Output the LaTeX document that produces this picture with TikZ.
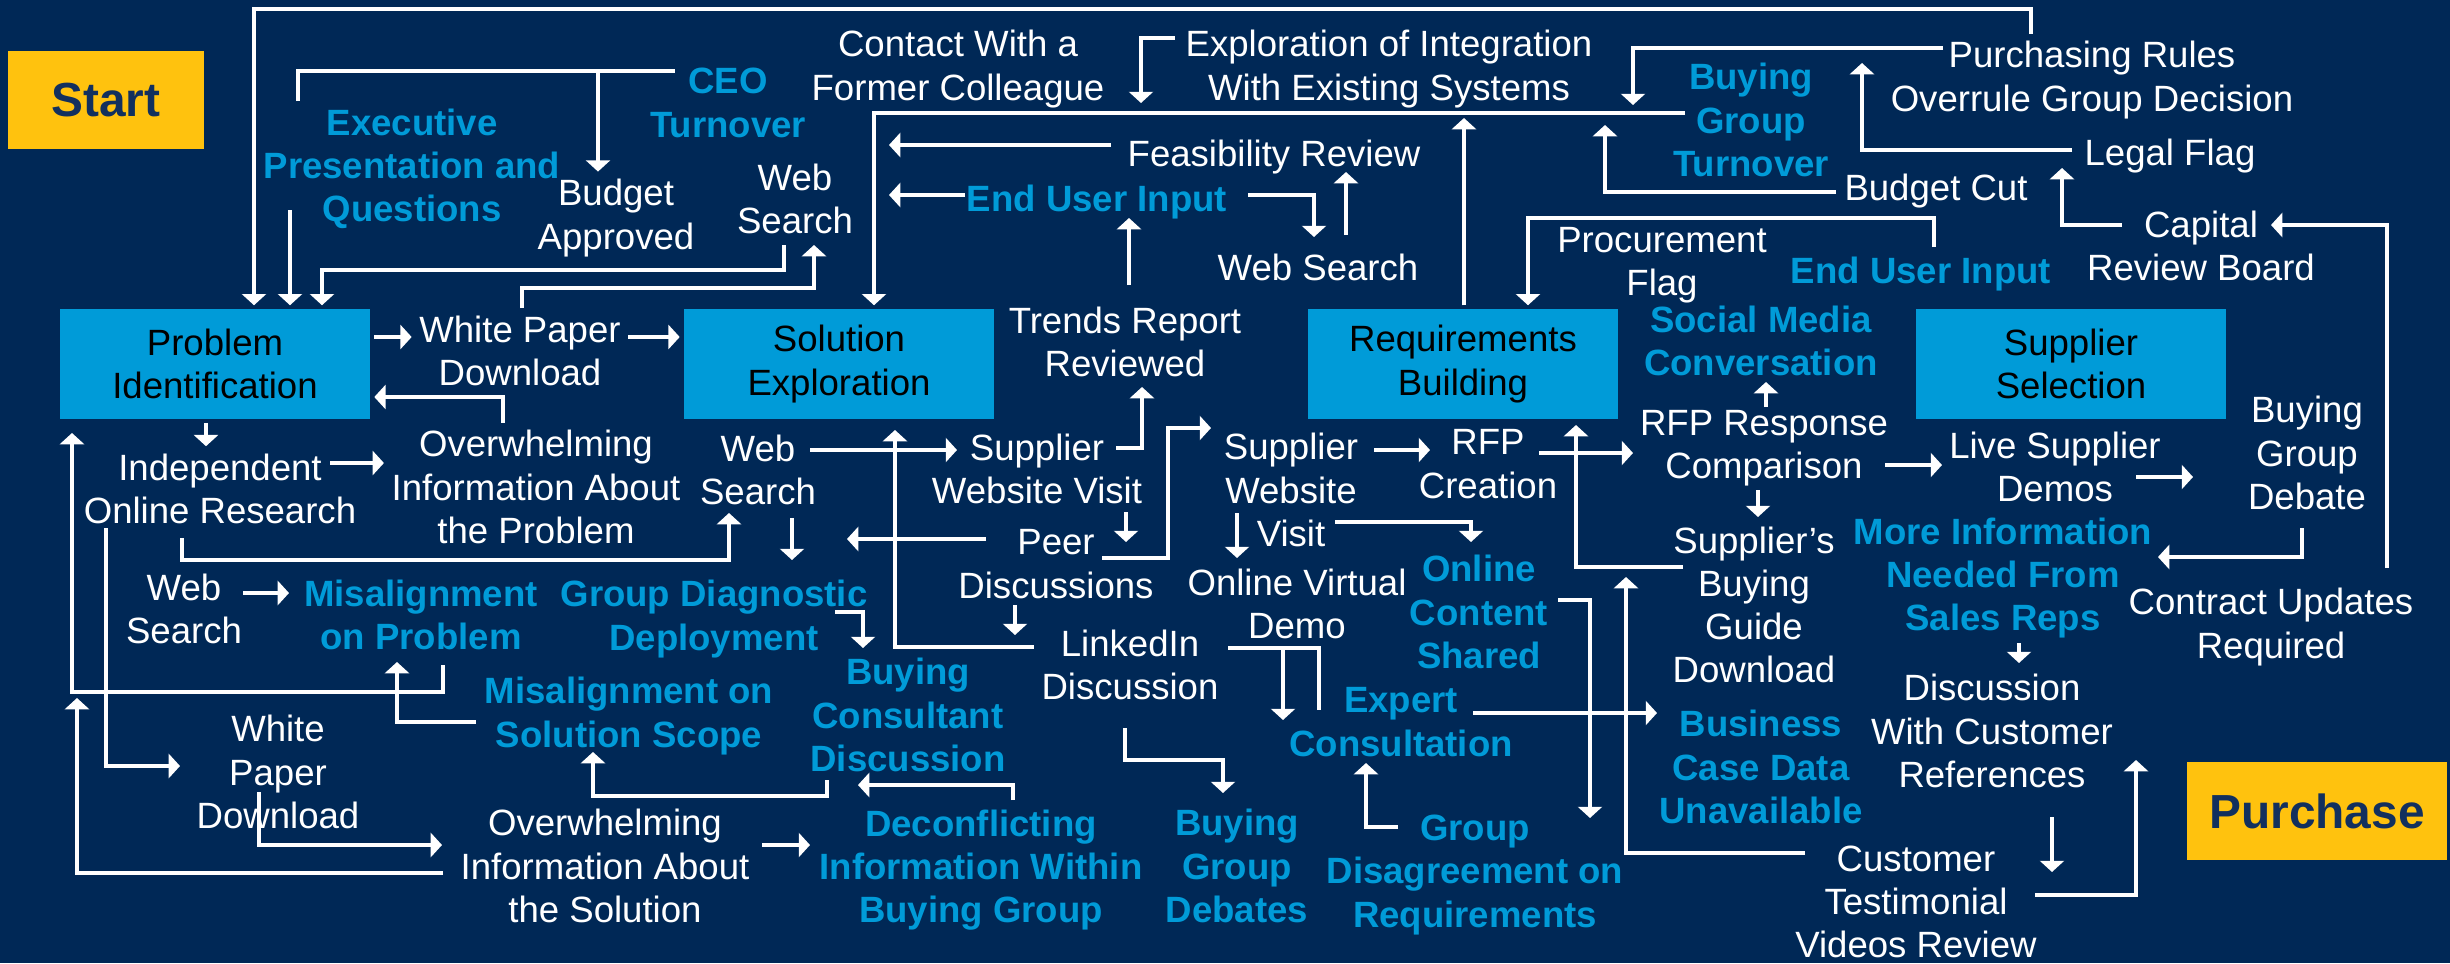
\documentclass[tikz,border=0pt]{standalone}
\usepackage{fontspec}
\setmainfont{Liberation Sans}
\usetikzlibrary{arrows.meta}

\definecolor{navy}{HTML}{002856}
\definecolor{stageblue}{HTML}{009BD8}
\definecolor{gold}{HTML}{FFC20E}
\definecolor{darkink}{HTML}{12305E}

\newcommand{\lblsize}{\fontsize{10.4}{12.3}\selectfont}
\newcommand{\goalsize}{\fontsize{13.6}{16}\selectfont\bfseries}

\begin{document}
\begin{tikzpicture}[x=0.01cm,y=-0.01cm]
	\tikzstyle{stage} = [fill=stageblue,minimum width=3.1cm,minimum height=1.09cm,inner sep=0pt,outer sep=1.2pt,align=center,font=\lblsize]
	\tikzstyle{goal} = [fill=gold,text=darkink,inner sep=0pt,font=\goalsize]
	\tikzstyle{touch} = [text=white,align=center,inner sep=2pt,font=\lblsize]
	\tikzstyle{hot} = [touch,text=stageblue,font=\lblsize\bfseries]
	\tikzstyle{link} = [white,line width=1.25pt]
	\tikzstyle{flow} = [link,-{Triangle[width=6.8pt,length=3.2pt]}]

	\fill[navy] (0,0) rectangle (2450,963);
	\useasboundingbox (0,0) rectangle (2450,963);

	\node[goal,minimum width=1.96cm,minimum height=0.97cm] at (106,100) (start) {Start};
	\node[goal,minimum width=2.59cm,minimum height=0.97cm] at (2317,811) (purchase) {Purchase};

	\node[stage] at (215,364) (pid) {Problem\\Identification};
	\node[stage] at (839,364) (sol) {Solution\\Exploration};
	\node[stage] at (1463,364) (req) {Requirements\\Building};
	\node[stage] at (2071,364) (sel) {Supplier\\Selection};

	\node[hot] at (728,103) (ceo) {CEO\\Turnover};
	\node[hot] at (412,169) (exec) {Executive\\Presentation and\\Questions};
	\node[touch] at (616,218) (budget) {Budget\\Approved};
	\node[touch] at (795,199) (webA) {Web\\Search};
	\node[touch] at (958,69) (contact) {Contact With a\\Former Colleague};
	\node[touch] at (1389,69) (integ) {Exploration of Integration\\With Existing Systems};
	\node[touch] at (1274,157) (feas) {Feasibility Review};
	\node[hot] at (1097,202) (euiA) {End User Input};
	\node[touch] at (1318,267) (webB) {Web Search};
	\node[touch] at (1125,342) (trends) {Trends Report\\Reviewed};
	\node[hot] at (1751,120) (bgt) {Buying\\Group\\Turnover};
	\node[touch] at (2092,80) (purch) {Purchasing Rules\\Overrule Group Decision};
	\node[touch] at (2170,156) (legal) {Legal Flag};
	\node[touch] at (1936,191) (bcut) {Budget Cut};
	\node[touch] at (2201,246) (capital) {Capital\\Review Board};
	\node[touch] at (1662,265) (procure) {Procurement\\Flag};
	\node[hot] at (1921,274) (euiB) {End User Input};
	\node[hot] at (1761,341) (social) {Social Media\\Conversation};

	\node[touch] at (520,351) (wpdA) {White Paper\\Download};
	\node[touch] at (220,489) (indep) {Independent\\Online Research};
	\node[touch] at (536,487) (overP) {Overwhelming\\Information About\\the Problem};
	\node[touch] at (758,470) (webC) {Web\\Search};
	\node[touch] at (1037,469) (swvA) {Supplier\\Website Visit};
	\node[touch] at (1056,564) (peer) {Peer\\Discussions};
	\node[touch] at (1291,490) (swvB) {Supplier\\Website\\Visit};
	\node[touch] at (1488,464) (rfp) {RFP\\Creation};
	\node[touch] at (1764,448) (rfpcmp) {RFP Response\\Comparison};
	\node[touch] at (1754,605) (guide) {Supplier's\\Buying\\Guide\\Download};
	\node[touch] at (2055,467) (demos) {Live Supplier\\Demos};
	\node[touch] at (2307,453) (bgd) {Buying\\Group\\Debate};
	\node[hot] at (2003,578) (moreinfo) {More Information\\Needed From\\Sales Reps};
	\node[touch] at (2271,627) (contract) {Contract Updates\\Required};
	\node[touch] at (1992,731) (refs) {Discussion\\With Customer\\References};
	\node[touch] at (1916,902) (videos) {Customer\\Testimonial\\Videos Review};

	\node[touch] at (184,609) (webD) {Web\\Search};
	\node[hot] at (421,615) (misP) {Misalignment\\on Problem};
	\node[hot] at (714,619) (diag) {Group Diagnostic\\Deployment};
	\node[hot] at (629,716) (misS) {Misalignment on\\Solution Scope};
	\node[hot] at (908,715) (consult) {Buying\\Consultant\\Discussion};
	\node[touch] at (1130,665) (linked) {LinkedIn\\Discussion};
	\node[touch] at (1297,604) (demo) {Online Virtual\\Demo};
	\node[hot] at (1479,612) (content) {Online\\Content\\Shared};
	\node[hot] at (1401,722) (expert) {Expert\\Consultation};
	\node[hot] at (1761,767) (bizcase) {Business\\Case Data\\Unavailable};
	\node[touch] at (278,772) (wpdB) {White\\Paper\\Download};
	\node[touch] at (605,866) (overS) {Overwhelming\\Information About\\the Solution};
	\node[hot] at (981,870) (deconf) {Deconflicting\\Information Within\\Buying Group};
	\node[hot] at (1237,866) (debates) {Buying\\Group\\Debates};
	\node[hot] at (1475,875) (disagree) {Group\\Disagreement on\\Requirements};

	\coordinate (ceojoin) at (598,71);
	\coordinate (linkjoin) at (1283,648);

	\draw[link] (exec.north -| 298,0) |- (675,71);
	\draw[link] (1228,648) -| (1319,710);

	\begin{scope}[flow]
		\draw (purch.north -| 2031,0) -- (2031,9) -| (pid.north -| 254,0);
		\draw (ceojoin) -- (budget.north -| 598,0);
		\draw (290,210) -- (pid.north -| 290,0);
		\draw (784,245) |- (322,270) -- (pid.north -| 322,0);
		\draw (wpdA.north -| 522,0) |- (814,288) -- (814,245);
		\draw (pid.east |- 0,337) -- (wpdA.west |- 0,337);
		\draw (wpdA.east |- 0,337) -- (sol.west |- 0,337);
		\draw (overP.north -| 503,0) |- (pid.east |- 0,397);
		\draw (pid.south -| 206,0) -- (indep.north -| 206,0);
		\draw (330,463) -- (overP.west |- 0,463);
		\draw (182,538) |- (729,560) -- (729,513);
		\draw (810,450) -- (957,450);
		\draw (linked.west |- 0,647) -| (895,430);
		\draw (792,518) -- (792,560);
		\draw (986,539) -- (847,539);
		\draw (1126,512) -- (1126,542);
		\draw (1116,448) -| (1142,387);
		\draw (1102,558) -| (1168,428) -- (1211,428);
		\draw (1015,605) -- (1015,635);
		\draw (835,612) -| (863,648);
		\draw (1129,285) -- (1129,218);
		\draw (1111,145) -- (889,145);
		\draw (965,195) -- (889,195);
		\draw (1248,195) -| (1314,237);
		\draw (1346,235) -- (1346,172);
		\draw (1685,113) -| (sol.north -| 874,0);
		\draw (req.north -| 1464,0) -- (1464,118);
		\draw (1175,38) -| (1141,103);
		\draw (1943,48) -| (1633,105);
		\draw (1836,192) -| (1605,125);
		\draw (2072,150) -| (1862,63);
		\draw (2122,225) -| (2062,168);
		\draw (2387,568) |- (2271,225);
		\draw (1934,247) |- (1528,218) -- (req.north -| 1528,0);
		\draw (1766,407) -- (1766,382);
		\draw (1374,450) -- (1430,450);
		\draw (1237,513) -- (1237,558);
		\draw (1335,522) -| (1471,542);
		\draw (1539,453) -- (1633,453);
		\draw (1683,567) -| (1576,425);
		\draw (1805,853) -| (1626,577);
		\draw (1558,600) -| (1590,818);
		\draw (1473,713) -- (1657,713);
		\draw (1398,827) -| (1366,763);
		\draw (linkjoin) -- (1283,720);
		\draw (1125,728) |- (1223,760) -- (1223,793);
		\draw (443,665) |- (72,692) -- (72,433);
		\draw (476,722) -| (397,662);
		\draw (106,528) |- (180,766);
		\draw (443,873) -| (77,698);
		\draw (259,792) |- (442,845);
		\draw (762,845) -- (810,845);
		\draw (1013,800) |- (858,785);
		\draw (827,780) |- (593,796) -- (593,752);
		\draw (243,593) -- (289,593);
		\draw (1885,465) -- (1942,465);
		\draw (2136,477) -- (2193,477);
		\draw (2302,528) |- (2158,557);
		\draw (2019,643) -- (2019,663);
		\draw (1758,490) -- (1758,517);
		\draw (2052,817) -- (2052,872);
		\draw (2035,895) -| (2136,760);
	\end{scope}
\end{tikzpicture}
\end{document}
